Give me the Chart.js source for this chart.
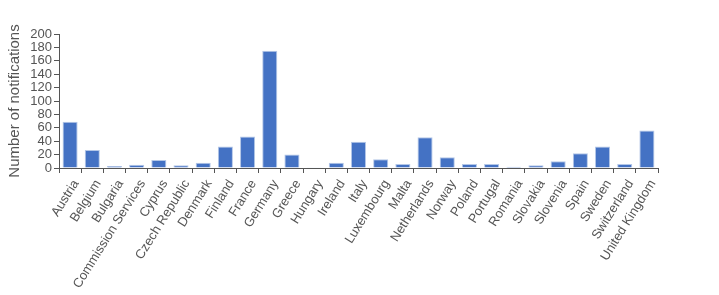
<!DOCTYPE html>
<html>
<head>
<meta charset="utf-8">
<script src="https://cdn.jsdelivr.net/npm/chart.js@4"></script>
<style>
  html, body { margin: 0; padding: 0; background: #fff; }
  #wrap { width: 719px; height: 295px; position: relative; }
</style>
</head>
<body>
<div id="wrap"><canvas id="notifChart"></canvas></div>
<script>
// Notifications per country
const countries = [
    'Austria', 'Belgium', 'Bulgaria', 'Commission Services', 'Cyprus', 'Czech Republic',
    'Denmark', 'Finland', 'France', 'Germany', 'Greece', 'Hungary', 'Ireland', 'Italy',
    'Luxembourg', 'Malta', 'Netherlands', 'Norway', 'Poland', 'Portugal', 'Romania',
    'Slovakia', 'Slovenia', 'Spain', 'Sweden', 'Switzerland', 'United Kingdom'
];
const notifications = [
    69, 27, 3, 5, 12, 4,
    8, 32, 47, 175, 20, 1, 8, 39,
    13, 6, 46, 16, 6, 6, 2,
    4, 10, 22, 32, 6, 56
];
const yTicks = [0, 20, 40, 60, 80, 100, 120, 140, 160, 180, 200];

const axisColor = '#555';
const textColor = '#555';

const ctx = document.getElementById('notifChart').getContext('2d');
new Chart(ctx, {
    type: 'bar',
    data: {
        labels: countries,
        datasets: [{
            data: notifications,
            backgroundColor: '#4472c4',
            borderColor: '#b4c7e7',
            borderWidth: { top: 1, left: 1, right: 1, bottom: 0 },
            barPercentage: 0.68,
            categoryPercentage: 1.0
        }]
    },
    options: {
        responsive: true,
        maintainAspectRatio: false,
        animation: false,
        layout: { padding: { top: 34, right: 61, left: 0, bottom: 0 } },
        plugins: {
            legend: { display: false },
            tooltip: { enabled: false }
        },
        scales: {
            x: {
                grid: {
                    offset: true,
                    drawOnChartArea: false,
                    drawTicks: true,
                    tickLength: 5,
                    tickColor: axisColor
                },
                border: { color: axisColor, width: 1 },
                ticks: {
                    color: textColor,
                    font: { family: 'Liberation Sans, Arial', size: 13 },
                    minRotation: 58,
                    maxRotation: 58,
                    autoSkip: false,
                    labelOffset: 6,
                    padding: 4
                },
                afterFit: scale => { scale.height = 127; }
            },
            y: {
                min: 0,
                max: 200,
                afterBuildTicks: scale => { scale.ticks = yTicks.map(v => ({ value: v })); },
                grid: {
                    drawOnChartArea: false,
                    drawTicks: true,
                    tickLength: 5,
                    tickColor: axisColor
                },
                border: { color: axisColor, width: 1 },
                ticks: {
                    color: textColor,
                    font: { family: 'Liberation Sans, Arial', size: 13 },
                    autoSkip: false,
                    padding: 2
                },
                title: {
                    display: true,
                    text: 'Number of notifications',
                    color: textColor,
                    font: { family: 'Liberation Sans, Arial', size: 15 },
                    padding: { top: 6, bottom: 0 }
                },
                afterFit: scale => { scale.width = 59; }
            }
        }
    }
});
</script>
</body>
</html>
